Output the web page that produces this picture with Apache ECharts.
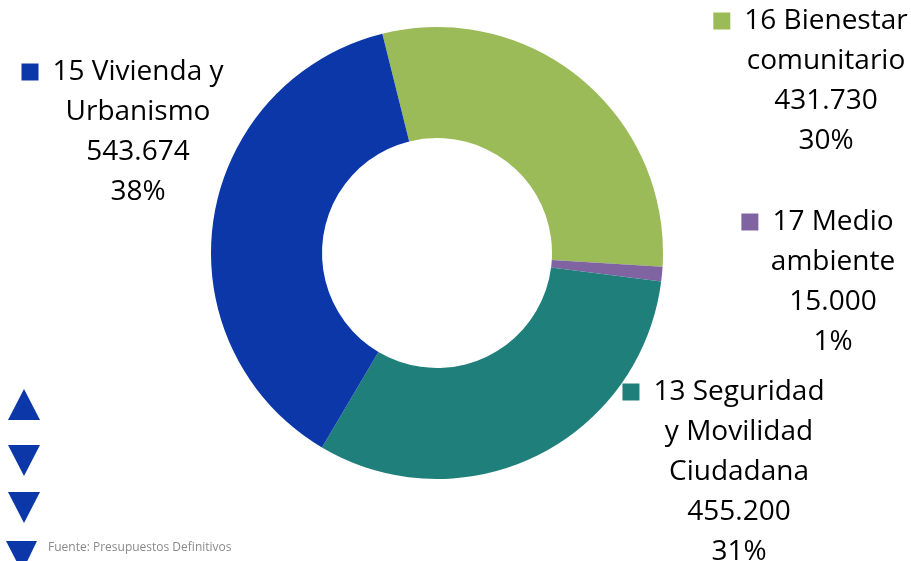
<!DOCTYPE html>
<html>
<head>
<meta charset="utf-8">
<script src="https://cdn.jsdelivr.net/npm/echarts@6/dist/echarts.min.js"></script>
<style>
  html, body { margin: 0; padding: 0; background: #fff; }
  #chart { width: 911px; height: 561px; }
</style>
</head>
<body>
<div id="chart"></div>
<script>
// datos del gráfico
var categorias = ['16 Bienestar\ncomunitario', '17 Medio\nambiente', '13 Seguridad\ny Movilidad\nCiudadana', '15 Vivienda y\nUrbanismo'];
var valores = [431730, 15000, 455200, 543674];
var colores = ['#9BBB59', '#8064A2', '#1F7F7B', '#0B37A9'];
var fuente = 'Fuente: Presupuestos Definitivos';

// posición de cada etiqueta (centro x, arriba y)
var posEtiquetas = [[826, 1], [833, 202], [739, 372], [138, 52]];

function fmtMiles(v) {
  return String(v).replace(/\B(?=(\d{3})+(?!\d))/g, '.');
}

var rich = { t: { fontSize: 28, lineHeight: 40, color: '#000' }, pad: { width: 31, height: 17 }, gap: { width: 14, height: 17 } };
colores.forEach(function (c, i) {
  rich['sq' + i] = { width: 17, height: 17, backgroundColor: c };
});

var chart = echarts.init(document.getElementById('chart'), null, { renderer: 'canvas' });
chart.setOption({
  animation: false,
  backgroundColor: '#fff',
  textStyle: { fontFamily: 'Open Sans' },
  graphic: [
    { type: 'polygon', shape: { points: [[24, 389], [40, 420], [8, 420]] }, style: { fill: '#0B37A9' } },
    { type: 'polygon', shape: { points: [[8, 445], [40, 445], [24, 476]] }, style: { fill: '#0B37A9' } },
    { type: 'polygon', shape: { points: [[8, 492], [40, 492], [24, 523]] }, style: { fill: '#0B37A9' } },
    { type: 'polygon', shape: { points: [[6, 541], [37, 541], [22, 572]] }, style: { fill: '#0B37A9' } },
    { type: 'text', left: 48, top: 542, style: { text: fuente, fill: '#8A8A8A', font: '12px "Open Sans"' } }
  ],
  series: [{
    type: 'pie',
    center: [437, 253],
    radius: [115, 226],
    startAngle: 104,
    clockwise: true,
    avoidLabelOverlap: false,
    emphasis: { disabled: true },
    itemStyle: { borderWidth: 0 },
    labelLine: { show: false },
    label: {
      show: true,
      position: 'outside',
      align: 'center',
      verticalAlign: 'top',
      rich: rich,
      formatter: function (p) {
        var lineas = p.name.split('\n');
        var out = '{sq' + p.dataIndex + '|}{gap|}{t|' + lineas[0] + '}{pad|}';
        for (var i = 1; i < lineas.length; i++) out += '\n{t|' + lineas[i] + '}';
        out += '\n{t|' + fmtMiles(p.value) + '}';
        out += '\n{t|' + Math.round(p.percent) + '%}';
        return out;
      }
    },
    labelLayout: function (params) {
      var pos = posEtiquetas[params.dataIndex];
      return { x: pos[0], y: pos[1], align: 'center', verticalAlign: 'top' };
    },
    data: categorias.map(function (n, i) {
      return { name: n, value: valores[i], itemStyle: { color: colores[i] } };
    })
  }]
});
</script>
</body>
</html>
